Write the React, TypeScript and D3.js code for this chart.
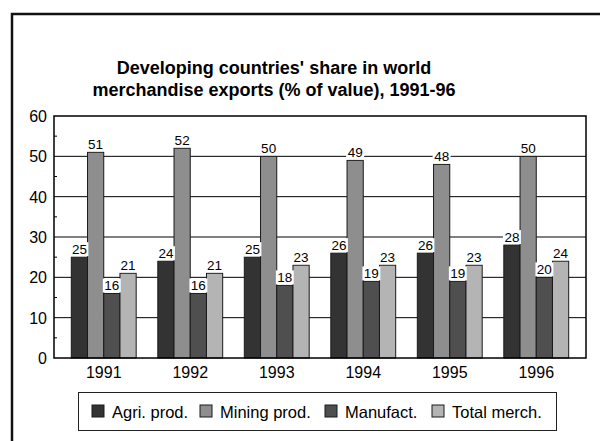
import React from 'react';
import * as d3 from 'd3';

// chart data
const years = ['1991', '1992', '1993', '1994', '1995', '1996'];
const seriesNames = ['Agri. prod.', 'Mining prod.', 'Manufact.', 'Total merch.'];
const agri = [25, 24, 25, 26, 26, 28];
const mining = [51, 52, 50, 49, 48, 50];
const manufact = [16, 16, 18, 19, 19, 20];
const total = [21, 21, 23, 23, 23, 24];
const yTicks = [0, 10, 20, 30, 40, 50, 60];
const titleLines = ["Developing countries' share in world", 'merchandise exports (% of value), 1991-96'];

const colors = ['#333333', '#8e8e8e', '#4f4f4f', '#b4b4b4'];
const font = '"Liberation Sans", Arial, sans-serif';

const App = () => {
  const width = 600;
  const height = 441;
  const margin = { top: 116, right: 14, bottom: 83, left: 54 };
  const plotBottom = height - margin.bottom;
  const plotRight = width - margin.right;

  const series = [agri, mining, manufact, total];

  const x = d3.scaleBand()
    .domain(years)
    .range([margin.left, plotRight])
    .paddingInner(0.25)
    .paddingOuter(0.2);

  const xInner = d3.scaleBand()
    .domain(seriesNames)
    .range([0, x.bandwidth()]);

  const y = d3.scaleLinear()
    .domain([0, 60])
    .range([plotBottom, margin.top]);

  const minorTicks = d3.range(5, 60, 10);

  // legend layout (left positions of swatches)
  const legendX = [92, 200, 325, 432];

  return (
    <svg width={width} height={height} style={{ position: 'absolute', left: 0, top: 0, background: '#fff' }}>
      {/* outer frame */}
      <rect x={12} y={14} width={620} height={460} fill="none" stroke="#111" strokeWidth={2.5} />

      {/* title */}
      {titleLines.map((t, i) => (
        <text key={i} x={274} y={74 + i * 22} textAnchor="middle" fontFamily={font} fontWeight="bold" fontSize={18} fill="#000">
          {t}
        </text>
      ))}

      {/* gridlines */}
      {yTicks.filter(v => v > 0 && v < 60).map(v => (
        <line key={v} x1={margin.left} x2={plotRight} y1={y(v)} y2={y(v)} stroke="#000" strokeWidth={1} />
      ))}
      {minorTicks.map(v => (
        <line key={v} x1={margin.left} x2={margin.left + 3} y1={y(v)} y2={y(v)} stroke="#000" strokeWidth={1} />
      ))}

      {/* y labels */}
      {yTicks.map(v => (
        <text key={v} x={margin.left - 7} y={y(v) + 6} textAnchor="end" fontFamily={font} fontSize={16} fill="#000">
          {v}
        </text>
      ))}

      {/* bars */}
      {years.map((yr, i) => (
        <g key={yr} transform={`translate(${x(yr)},0)`}>
          {series.map((s, j) => (
            <rect key={j}
              x={xInner(seriesNames[j])}
              y={y(s[i])}
              width={xInner.bandwidth()}
              height={plotBottom - y(s[i])}
              fill={colors[j]}
              stroke="#1a1a1a"
              strokeWidth={1} />
          ))}
        </g>
      ))}

      {/* value labels */}
      {years.map((yr, i) => (
        <g key={yr} transform={`translate(${x(yr)},0)`}>
          {series.map((s, j) => {
            const cx = xInner(seriesNames[j]) + xInner.bandwidth() / 2;
            const top = y(s[i]);
            return (
              <g key={j}>
                <rect x={cx - 9} y={top - 15} width={18} height={14} fill="#fff" />
                <text x={cx} y={top - 3} textAnchor="middle" fontFamily={font} fontSize={13.5} fill="#000">
                  {s[i]}
                </text>
              </g>
            );
          })}
        </g>
      ))}

      {/* plot frame */}
      <rect x={margin.left} y={margin.top} width={plotRight - margin.left} height={plotBottom - margin.top} fill="none" stroke="#000" strokeWidth={1.5} />

      {/* x labels */}
      {years.map(yr => (
        <text key={yr} x={x(yr) + x.bandwidth() / 2} y={plotBottom + 20} textAnchor="middle" fontFamily={font} fontSize={16} fill="#000">
          {yr}
        </text>
      ))}

      {/* legend */}
      <rect x={78.5} y={392.5} width={478} height={38} fill="#fff" stroke="#222" strokeWidth={1} />
      {seriesNames.map((name, j) => (
        <g key={name}>
          <rect x={legendX[j]} y={405} width={12} height={12} fill={colors[j]} stroke="#1a1a1a" strokeWidth={1} />
          <text x={legendX[j] + 20} y={417.5} fontFamily={font} fontSize={16.5} fill="#000">
            {name}
          </text>
        </g>
      ))}
    </svg>
  );
};

export default App;
